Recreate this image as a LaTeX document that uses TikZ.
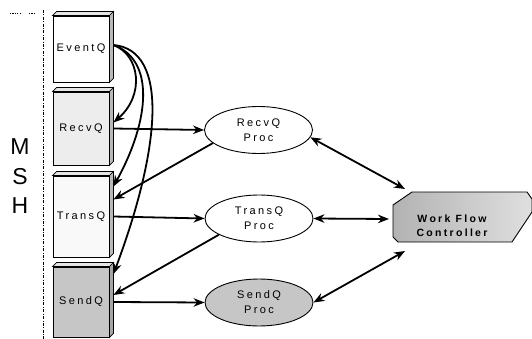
\documentclass[tikz,border=0pt]{standalone}
\usepackage{fontspec}
\setmainfont{Liberation Sans}
\newfontfamily\lbl[LetterSpace=22]{Liberation Sans}
\usetikzlibrary{arrows.meta,calc,shapes.geometric}
\begin{document}
\begin{tikzpicture}[x=1pt,y=-1pt,
  qbox/.style={draw,line width=0.9pt,minimum width=56pt,inner sep=0pt,font=\lbl\fontsize{11}{12}\selectfont},
  proc/.style={ellipse,draw,line width=0.9pt,minimum width=108pt,minimum height=47pt,inner sep=0pt,align=center,font=\lbl\fontsize{11}{15}\selectfont},
  arr/.style={line width=1.8pt,-{Stealth[length=11pt,width=8.5pt]}},
  darr/.style={line width=1.8pt,{Stealth[length=11pt,width=8.5pt]}-{Stealth[length=11pt,width=8.5pt]}},
  msh/.style={font=\fontsize{23}{23}\selectfont,inner sep=0pt},
  ]
\useasboundingbox (0,0) rectangle (532,339);

% left marks and divider
\draw[line width=0.6pt,dash pattern=on 1.2pt off 1.2pt] (10,13) -- (21,13);
\draw[line width=0.6pt,dash pattern=on 1.2pt off 1.2pt] (29,13) -- (34,13);
\draw[line width=0.6pt,dash pattern=on 3pt off 1.5pt on 0.8pt off 1.5pt] (43,10) -- (43,339);

\node[msh] (m) at (20,147) {M};
\node[msh] (s) at (20,177) {S};
\node[msh] (h) at (20,206) {H};

% queues
\node[qbox,fill=white,minimum height=66pt] (eventq) at (81,49) {EventQ};
\node[qbox,fill=gray!14,minimum height=73pt] (recvq) at (81,128.5) {RecvQ};
\node[qbox,fill=gray!5,minimum height=81pt] (transq) at (81,216.5) {TransQ};
\node[qbox,fill=gray!45,minimum height=70pt] (sendq) at (81,302) {SendQ};

\foreach \n/\f in {eventq/gray!55,recvq/gray!55,transq/gray!55,sendq/gray!70} {
  \draw[line width=0.7pt,fill=gray!20] (\n.north west) -- ++(4,-4) -- ($(\n.north east)+(4,-4)$) -- (\n.north east) -- cycle;
  \draw[line width=0.7pt,fill=\f] (\n.north east) -- ++(4,-4) -- ($(\n.south east)+(4,-4)$) -- (\n.south east) -- cycle;
}

% processes
\node[proc,fill=white] (recvqp) at (258.5,130) {RecvQ\\Proc};
\node[proc,fill=white] (transqp) at (259,218.5) {TransQ\\Proc};
\node[proc,fill=gray!45] (sendqp) at (259,302.5) {SendQ\\Proc};

% controller
\draw[line width=0.9pt,left color=gray!60,right color=gray!25]
  (412,192) -- (527,192) -- (532,199) -- (532,212) -- (512,242) -- (398,242) -- (393,237) -- (393,205) -- cycle;
\node[font=\lbl\bfseries\fontsize{10.5}{14}\selectfont,align=center,inner sep=0pt] (ctrl) at (452,226) {Work Flow\\Controller};
\coordinate (cA) at (405,189);
\coordinate (cB) at (389,219);
\coordinate (cC) at (405,251);

% EventQ curves
\draw[arr] ($(eventq.east)+(4,-4)$) .. controls (140,55) and (145,95) .. ($(recvq.east)+(4,-6)$);
\draw[arr] ($(eventq.east)+(4,-4)$) .. controls (155,60) and (150,120) .. ($(transq.east)+(4,-30)$);
\draw[arr] ($(eventq.east)+(4,-4)$) .. controls (170,50) and (160,150) .. ($(sendq.east)+(4,-28)$);

% straight arrows
\draw[arr] ($(recvq.east)+(4,0)$) -- (recvqp.west);
\draw[arr] ($(transq.east)+(4,0)$) -- (transqp.west);
\draw[arr] ($(sendq.east)+(4,0)$) -- (sendqp.west);
\draw[arr] (recvqp.196) -- ($(transq.east)+(4,-17)$);
\draw[arr] (transqp.202) -- ($(sendq.east)+(4,-7)$);

% to controller
\draw[darr] (recvqp.-8) -- (cA);
\draw[darr] (transqp.east) -- (cB);
\draw[darr] (sendqp.east) -- (cC);
\end{tikzpicture}
\end{document}
